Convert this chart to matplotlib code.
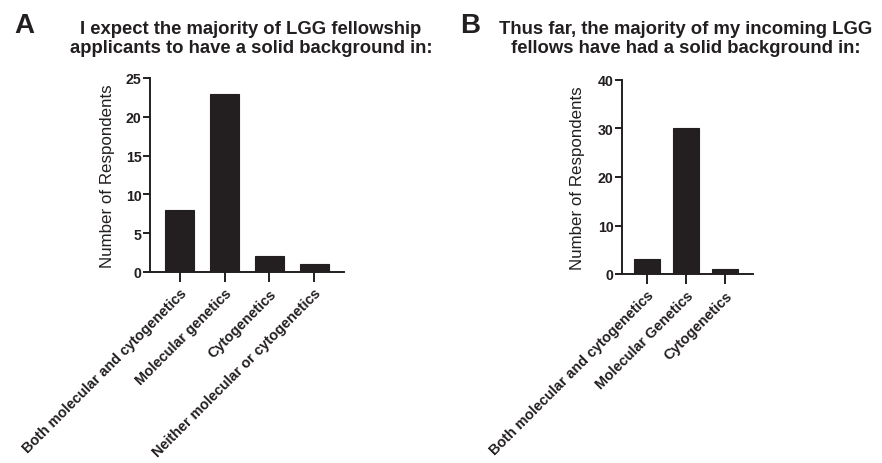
import matplotlib
matplotlib.use("Agg")
import matplotlib.pyplot as plt

plt.rcParams['font.family'] = ['Liberation Sans', 'DejaVu Sans']

# Panel A data
cats_a = ["Both molecular and cytogenetics", "Molecular genetics",
          "Cytogenetics", "Neither molecular or cytogenetics"]
vals_a = [8, 23, 2, 1]
yticks_a = [0, 5, 10, 15, 20, 25]
title_a = "I expect the majority of LGG fellowship\napplicants to have a solid background in:"

# Panel B data
cats_b = ["Both molecular and cytogenetics", "Molecular Genetics", "Cytogenetics"]
vals_b = [3, 30, 1]
yticks_b = [0, 10, 20, 30, 40]
title_b = "Thus far, the majority of my incoming LGG\nfellows have had a solid background in:"

W, H = 882, 464
fig = plt.figure(figsize=(W / 100, H / 100), dpi=100)

BAR = "#231f20"


def panel(rect, cats, vals, yticks, xlim, labx):
    ax = fig.add_axes(rect)
    x = list(range(len(cats)))
    ax.bar(x, vals, width=0.65, color=BAR, edgecolor=BAR, linewidth=0.8)
    ax.set_xlim(*xlim)
    ax.set_ylim(yticks[0], yticks[-1])
    ax.set_yticks(yticks)
    ax.set_xticks(x)
    ax.set_xticklabels(cats, rotation=45, ha='right', rotation_mode='anchor',
                       fontsize=10.4, fontweight='bold', color='#231f20')
    for lab in ax.get_yticklabels():
        lab.set_fontweight('bold')
        lab.set_fontsize(10.2)
        lab.set_color('#231f20')
    ax.spines['top'].set_visible(False)
    ax.spines['right'].set_visible(False)
    for s in ('left', 'bottom'):
        ax.spines[s].set_linewidth(1.4)
        ax.spines[s].set_color('#231f20')
    ax.tick_params(axis='x', length=7, width=1.4, color='#231f20', pad=3)
    ax.tick_params(axis='y', length=5, width=1.4, color='#231f20', pad=1)
    ax.set_ylabel("Number of Respondents", fontsize=12.2, color='#231f20')
    ax.yaxis.set_label_coords(labx, 0.5)
    return ax


panel([150 / W, 1 - 273 / H, 194 / W, 194 / H], cats_a, vals_a, yticks_a,
      (-0.667, 3.667), -0.18)
panel([622 / W, 1 - 275 / H, 131 / W, 194 / H], cats_b, vals_b, yticks_b,
      (-0.64, 2.72), -0.28)

fig.text(14 / W, 1 - 33 / H, "A", fontsize=20, fontweight='bold',
         va='baseline', ha='left', color='#231f20')
fig.text(460 / W, 1 - 33 / H, "B", fontsize=20, fontweight='bold',
         va='baseline', ha='left', color='#231f20')
fig.text(251 / W, 1 - 39 / H, title_a, fontsize=13.3, fontweight='bold',
         ha='center', va='center', linespacing=1.12, color='#231f20')
fig.text(686 / W, 1 - 39 / H, title_b, fontsize=13.3, fontweight='bold',
         ha='center', va='center', linespacing=1.12, color='#231f20')

fig.savefig("out.png", dpi=100)
